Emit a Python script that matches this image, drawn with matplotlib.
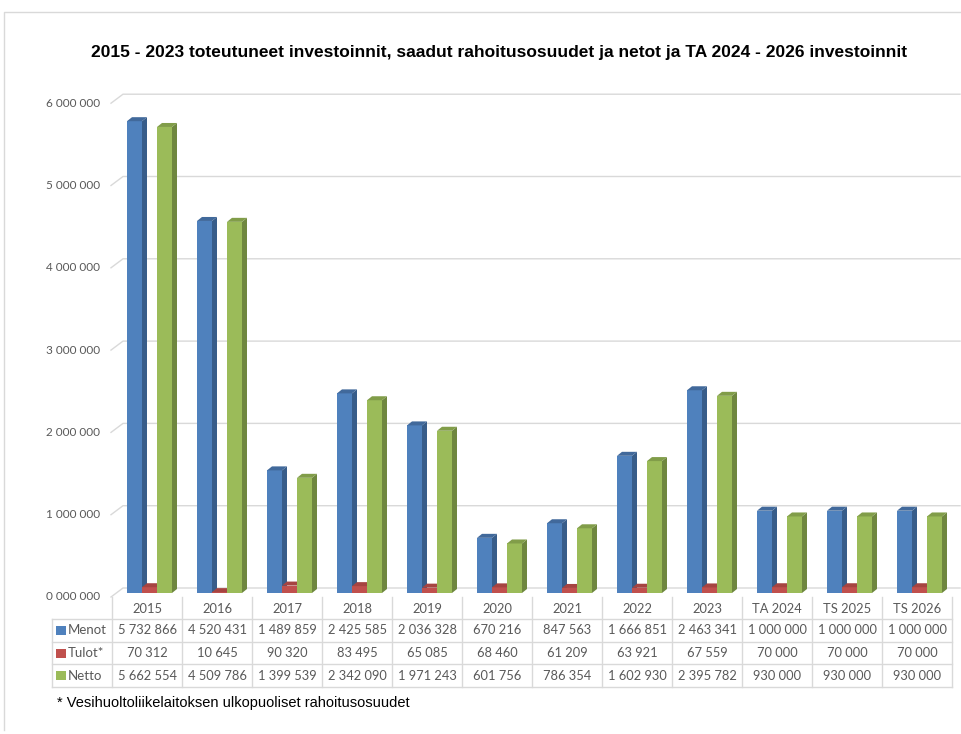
import numpy as np
import matplotlib.pyplot as plt
from matplotlib.patches import Polygon, Rectangle


categories = ['2015', '2016', '2017', '2018', '2019', '2020', '2021', '2022',
              '2023', 'TA 2024', 'TS 2025', 'TS 2026']
menot = [5732866, 4520431, 1489859, 2425585, 2036328, 670216, 847563,
         1666851, 2463341, 1000000, 1000000, 1000000]
tulot = [70312, 10645, 90320, 83495, 65085, 68460, 61209, 63921, 67559,
         70000, 70000, 70000]
netto = [5662554, 4509786, 1399539, 2342090, 1971243, 601756, 786354,
         1602930, 2395782, 930000, 930000, 930000]
series_names = ['Menot', 'Tulot*', 'Netto']
yticks = np.arange(0, 6000001, 1000000)

title = ('2015 - 2023 toteutuneet investoinnit, saadut rahoitusosuudet ja '
         'netot ja TA 2024 - 2026 investoinnit')
footnote = '* Vesihuoltoliikelaitoksen ulkopuoliset rahoitusosuudet'

# face colours: front, side, top
colors = [('#4F81BD', '#385D8A', '#41699B'),
          ('#C0504D', '#8E3A38', '#A64441'),
          ('#9BBB59', '#6F873F', '#819D49')]

# layout in pixels
W, H = 961, 734
X0_PX = 112          # left edge of first category
PX_PER_CAT = 70
BASE_PY = 593        # bar base
PX_PER_VAL = 82.3e-6
DEPTH_X, DEPTH_Y = 5, 4


def xd(px):
    return (px - X0_PX) / PX_PER_CAT - 0.5


def yd(py):
    return (BASE_PY - py) / PX_PER_VAL


def fmt(v):
    return '{:,}'.format(v).replace(',', ' ')


def tick_fmt(v):
    s = '{:07d}'.format(v)
    return s[0] + ' ' + s[1:4] + ' ' + s[4:]


def bar3d(ax, x0, w, h, cols):
    ddx = DEPTH_X / PX_PER_CAT
    ddy = DEPTH_Y / PX_PER_VAL
    ax.add_patch(Rectangle((x0, 0), w, h, fc=cols[0], ec='none', zorder=2))
    ax.add_patch(Polygon([(x0 + w, 0), (x0 + w + ddx, ddy),
                          (x0 + w + ddx, h + ddy), (x0 + w, h)],
                         fc=cols[1], ec='none', zorder=2))
    ax.add_patch(Polygon([(x0, h), (x0 + ddx, h + ddy),
                          (x0 + w + ddx, h + ddy), (x0 + w, h)],
                         fc=cols[2], ec='none', zorder=2))


fig = plt.figure(figsize=(W / 100, H / 100), dpi=100)
ax = fig.add_axes([0, 0, 1, 1])
ax.set_xlim(xd(0), xd(W))
ax.set_ylim(yd(H), yd(0))
ax.axis('off')

grid_col = '#D9D9D9'
text_col = '#595959'

# chart frame
ax.plot([xd(4), xd(4), xd(W)], [yd(730), yd(12), yd(12)], color=grid_col, lw=1)

# gridlines with the slanted wall edge
for v in yticks:
    ax.plot([xd(111), xd(123), xd(960)],
            [v + yd(597), v + yd(588), v + yd(588)],
            color=grid_col, lw=1, zorder=0)
    ax.text(xd(100), v + yd(597), tick_fmt(int(v)), ha='right', va='center',
            fontsize=8.5, color=text_col, family='Lato')

# bars
bw = 15 / PX_PER_CAT
offs = [15 / PX_PER_CAT, 30 / PX_PER_CAT, 45 / PX_PER_CAT]
all_series = [menot, tulot, netto]
for i in range(len(categories)):
    for j, s in enumerate(all_series):
        bar3d(ax, i - 0.5 + offs[j], bw, s[i], colors[j])

# data table
row_py = [597, 619, 642, 664, 687]
for py in row_py[1:]:
    ax.plot([xd(52), xd(952)], [yd(py), yd(py)], color=grid_col, lw=1)
for k in range(len(categories) + 1):
    ax.plot([k - 0.5, k - 0.5], [yd(597), yd(687)], color=grid_col, lw=1)
ax.plot([xd(52), xd(52)], [yd(619), yd(687)], color=grid_col, lw=1)

for i, c in enumerate(categories):
    ax.text(i, yd(609), c, ha='center', va='center', fontsize=9.3,
            color=text_col, family='Lato')

for j, (name, s) in enumerate(zip(series_names, all_series)):
    yc = yd((row_py[j + 1] + row_py[j + 2]) / 2)
    ax.add_patch(Rectangle((xd(56), yc - 4.5 / PX_PER_VAL),
                           xd(66) - xd(56), 9 / PX_PER_VAL,
                           fc=colors[j][0], ec='none'))
    ax.text(xd(68), yc, name, ha='left', va='center', fontsize=9.5,
            color=text_col, family='Lato')
    for i, v in enumerate(s):
        ax.text(i, yc, fmt(v), ha='center', va='center', fontsize=9.3,
                color=text_col, family='Lato')

fig.text(499 / W, 1 - 52 / H, title, ha='center', va='center', fontsize=12.5,
         fontweight='bold', family='Liberation Sans')
fig.text(57 / W, 1 - 703 / H, footnote, ha='left', va='center', fontsize=10.5,
         family='Liberation Sans')

fig.savefig('out.png', dpi=100)
